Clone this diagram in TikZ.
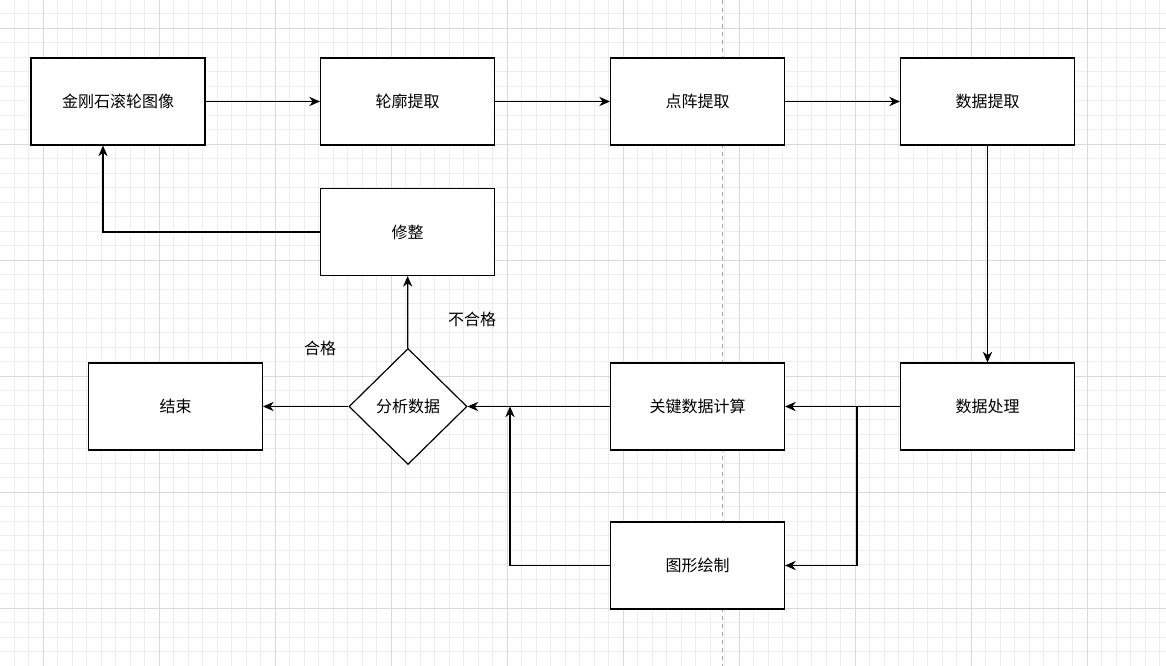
\documentclass[tikz,border=0pt]{standalone}
\usepackage{fontspec}
\setmainfont{Noto Sans CJK SC}
\usetikzlibrary{shapes.geometric,arrows.meta}
\begin{document}
\begin{tikzpicture}[x=0.75pt,y=-0.75pt,
 box/.style={draw,line width=0.9pt,minimum width=130.5pt,minimum height=65.25pt,font=\fontsize{12}{14}\selectfont,inner sep=0pt},
 dia/.style={draw,diamond,line width=0.9pt,minimum width=88.5pt,minimum height=87pt,inner sep=0pt,font=\fontsize{12}{14}\selectfont},
 arr/.style={draw,line width=0.9pt,-{Stealth[length=8pt,width=7pt]}},
 lab/.style={font=\fontsize{12}{14}\selectfont}]
\useasboundingbox (0,0) rectangle (1166,666);
\fill[white] (0,0) rectangle (1166,666);
\foreach \i in {-2,...,80} {\draw[black!7,line width=0.5pt] ({43+14.5*\i},0) -- ({43+14.5*\i},666);}
\foreach \i in {-1,...,44} {\draw[black!7,line width=0.5pt] (0,{28+14.5*\i}) -- (1166,{28+14.5*\i});}
\foreach \i in {-1,...,10} {\draw[black!15,line width=0.5pt] ({43+116*\i},0) -- ({43+116*\i},666);}
\foreach \i in {-1,...,6} {\draw[black!15,line width=0.5pt] (0,{28+116*\i}) -- (1166,{28+116*\i});}
\draw[black!35,dashed,line width=0.6pt] (722,0) -- (722,666);
\node[box,fill=white] (a) at (118,101.5) {金刚石滚轮图像};
\node[box,fill=white] (b) at (407.5,101.5) {轮廓提取};
\node[box,fill=white] (c) at (697.5,101.5) {点阵提取};
\node[box,fill=white] (d) at (987.5,101.5) {数据提取};
\node[box,fill=white] (x) at (407.5,232) {修整};
\node[box,fill=white] (e) at (175.5,406.5) {结束};
\node[dia,fill=white] (f) at (408,406.5) {分析数据};
\node[box,fill=white] (g) at (697.5,406.5) {关键数据计算};
\node[box,fill=white] (h) at (987.5,406.5) {数据处理};
\node[box,fill=white] (i) at (697.5,565.5) {图形绘制};
\coordinate (br) at (857,406.5);
\coordinate (j) at (510,406.5);
\path[arr] (a) -- (b);
\path[arr] (b) -- (c);
\path[arr] (c) -- (d);
\path[arr] (d) -- (h);
\path[arr] (h) -- (g);
\path[arr] (br) |- (i);
\path[arr] (g) -- (f);
\path[arr] (i.west) -| (j);
\path[arr] (f) -- (e);
\path[arr] (f) -- (x);
\path[arr] (x.west) -| (a.south -| 103,0);
\node[lab] (l1) at (320,348) {合格};
\node[lab] (l2) at (472,319) {不合格};
\end{tikzpicture}
\end{document}
